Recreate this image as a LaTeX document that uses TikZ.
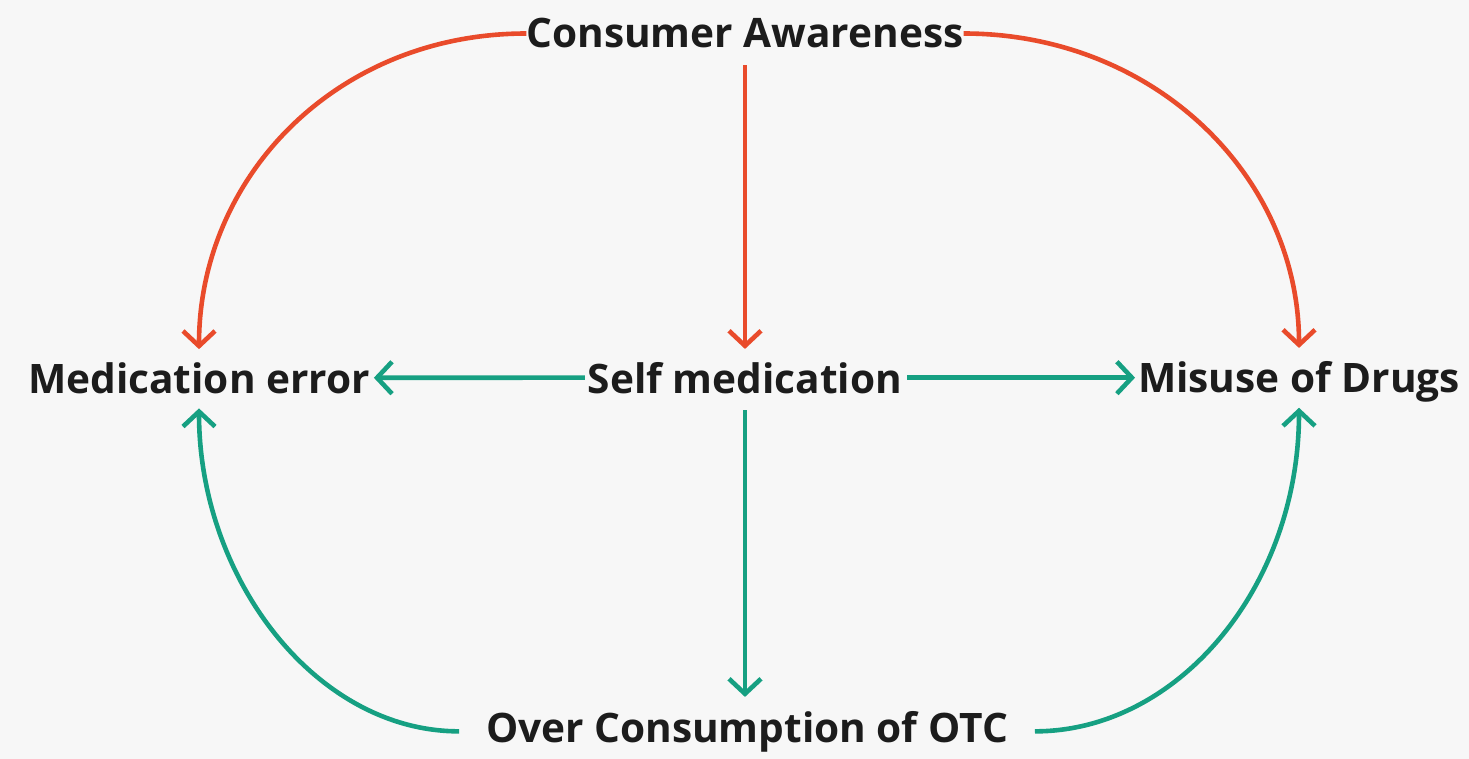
\documentclass[tikz,border=0pt]{standalone}
\usepackage{fontspec}
\setmainfont{Open Sans}
\usetikzlibrary{arrows.meta}
\definecolor{bgc}{HTML}{F7F7F7}
\definecolor{redc}{HTML}{E94B2B}
\definecolor{greenc}{HTML}{16A082}
\definecolor{txtc}{HTML}{1C1C1C}
\begin{document}
\begin{tikzpicture}[x=1pt,y=-1pt,
  lbl/.style={inner sep=0pt,outer sep=0pt,anchor=base,text=txtc,font=\fontsize{40.6}{48}\selectfont\bfseries},
  conn/.style={line width=4.6pt,-{Straight Barb[length=15pt,width=32pt]}},
  redconn/.style={conn,draw=redc},
  greenconn/.style={conn,draw=greenc}]
\fill[bgc] (0,0) rectangle (1469,759);
\useasboundingbox (0,0) rectangle (1469,759);
\node[lbl] (ca) at (745,48) {Consumer Awareness};
\node[lbl] (sm) at (745,393) {Self medication};
\node[lbl] (me) at (199,393) {Medication error};
\node[lbl] (md) at (1299,392) {Misuse of Drugs};
\node[lbl] (oc) at (747,742) {Over Consumption of OTC};
% red connectors
\draw[redconn,shorten >=13pt] (ca.west) .. controls +(-190,0) and +(0,-185) .. (me.north);
\draw[redconn,shorten >=13pt] (ca.east) .. controls +(190,0) and +(0,-185) .. (md.north);
\draw[redconn,shorten <=17pt,shorten >=13pt] (ca.south) -- (sm.north);
% green connectors
\draw[greenconn,shorten <=3pt,shorten >=4pt] (sm.west) -- (me.east);
\draw[greenconn,shorten <=5pt,shorten >=3pt] (sm.east) -- (md.west |- sm.east);
\draw[greenconn,shorten <=17pt,shorten >=14pt] (sm.south) -- (sm.south |- oc.north);
\draw[greenconn,shorten <=27pt,shorten >=15pt] (oc.west) .. controls +(-170,0) and +(0,185) .. (me.south);
\draw[greenconn,shorten <=27pt,shorten >=6pt] (oc.east) .. controls +(170,0) and +(0,185) .. (md.south);
\end{tikzpicture}
\end{document}
